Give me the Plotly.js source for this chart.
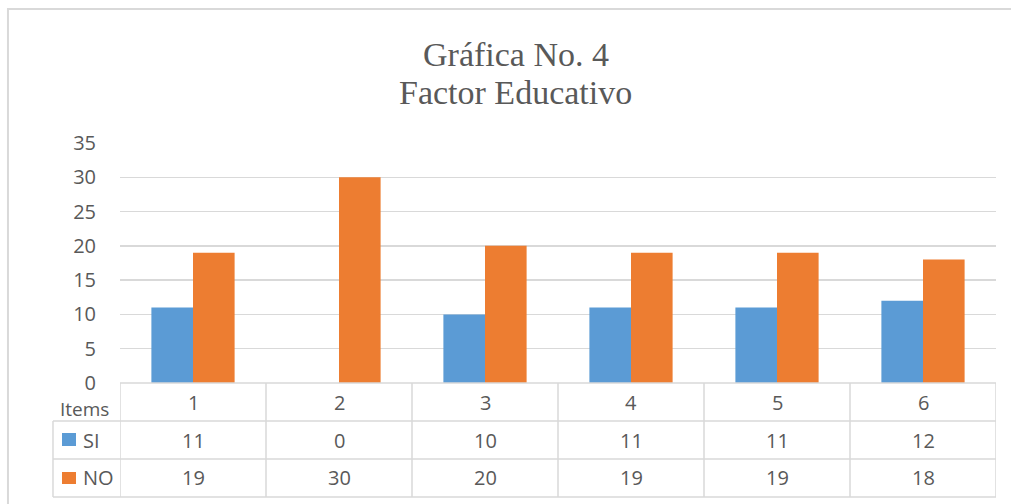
<!DOCTYPE html>
<html>
<head>
<meta charset="utf-8">
<script src="https://cdn.plot.ly/plotly-3.0.1.min.js"></script>
<style>html,body{margin:0;padding:0;background:#fff;}#chart{width:1011px;height:504px;}</style>
</head>
<body>
<div id="chart"></div>
<script>
const categories = ['1', '2', '3', '4', '5', '6'];
const siValues = [11, 0, 10, 11, 11, 12];
const noValues = [19, 30, 20, 19, 19, 18];
const seriesNames = ['SI', 'NO'];
const titleLines = ['Gráfica No. 4', 'Factor Educativo'];
const rowHeader = 'Items';

const BLUE = '#5b9bd5', ORANGE = '#ed7d31', GRID = '#d9d9d9', TXT = '#595959';
const FONT = 'Open Sans, sans-serif';

const traces = [
  {type: 'bar', name: seriesNames[0], x: categories, y: siValues, marker: {color: BLUE}},
  {type: 'bar', name: seriesNames[1], x: categories, y: noValues, marker: {color: ORANGE}}
];

// table geometry (paper y relative to plot area)
const rowY = [0, -0.1583, -0.3167, -0.475];
const rowMid = [-0.0792, -0.2375, -0.3958];
const leftX = -0.0765;
const n = categories.length;

const shapes = [];
const line = {color: GRID, width: 1.5};
// outer chart border
shapes.push({type: 'rect', xref: 'paper', yref: 'paper', x0: -0.1279, x1: 2, y0: -1, y1: 1.5583, line: {color: GRID, width: 2}});
// horizontal table lines
rowY.forEach((y, i) => {
  shapes.push({type: 'line', xref: 'x', yref: 'paper', x0: -0.5, x1: n - 0.5, y0: y, y1: y, line: line});
  if (i > 0) shapes.push({type: 'line', xref: 'paper', yref: 'paper', x0: leftX, x1: 0, y0: y, y1: y, line: line});
});
// vertical table lines
for (let k = 0; k <= n; k++) {
  shapes.push({type: 'line', xref: 'x', yref: 'paper', x0: k - 0.5, x1: k - 0.5, y0: rowY[0], y1: rowY[3], line: line});
}
shapes.push({type: 'line', xref: 'paper', yref: 'paper', x0: leftX, x1: leftX, y0: rowY[1], y1: rowY[3], line: line});
// legend keys
shapes.push({type: 'rect', xref: 'paper', yref: 'paper', x0: -0.0662, x1: -0.0502, y0: -0.2625, y1: -0.2083, fillcolor: BLUE, line: {width: 0}});
shapes.push({type: 'rect', xref: 'paper', yref: 'paper', x0: -0.0662, x1: -0.0502, y0: -0.4208, y1: -0.3708, fillcolor: ORANGE, line: {width: 0}});

const annotations = [];
const tf = {family: FONT, size: 20, color: TXT};
categories.forEach((c, i) => {
  annotations.push({xref: 'x', yref: 'paper', x: i, y: rowMid[0], text: c, showarrow: false, font: tf, xanchor: 'center', yanchor: 'middle'});
  annotations.push({xref: 'x', yref: 'paper', x: i, y: rowMid[1], text: String(siValues[i]), showarrow: false, font: tf, xanchor: 'center', yanchor: 'middle'});
  annotations.push({xref: 'x', yref: 'paper', x: i, y: rowMid[2], text: String(noValues[i]), showarrow: false, font: tf, xanchor: 'center', yanchor: 'middle'});
});
annotations.push({xref: 'paper', yref: 'paper', x: -0.0103, y: -0.1083, text: rowHeader, showarrow: false, font: {family: FONT, size: 19, color: TXT}, xanchor: 'right', yanchor: 'middle'});
annotations.push({xref: 'paper', yref: 'paper', x: -0.0449, y: rowMid[1], text: seriesNames[0], showarrow: false, font: tf, xanchor: 'left', yanchor: 'middle'});
annotations.push({xref: 'paper', yref: 'paper', x: -0.0449, y: rowMid[2], text: seriesNames[1], showarrow: false, font: tf, xanchor: 'left', yanchor: 'middle'});
// title lines
const titleFont = {family: 'Liberation Serif, Times New Roman, serif', size: 34, color: TXT};
annotations.push({xref: 'paper', yref: 'paper', x: 0.452, y: 1.3667, text: titleLines[0], showarrow: false, font: titleFont, xanchor: 'center', yanchor: 'middle'});
annotations.push({xref: 'paper', yref: 'paper', x: 0.452, y: 1.2125, text: titleLines[1], showarrow: false, font: titleFont, xanchor: 'center', yanchor: 'middle'});

const layout = {
  width: 1011, height: 504,
  margin: {l: 120, r: 15, t: 143, b: 121, pad: 0},
  paper_bgcolor: '#fff', plot_bgcolor: '#fff',
  showlegend: false,
  barmode: 'group', bargap: 0.43, bargroupgap: 0,
  xaxis: {type: 'category', showticklabels: false, showgrid: false, zeroline: false, showline: false, ticks: '', range: [-0.5, n - 0.5]},
  yaxis: {range: [0, 35], dtick: 5, tick0: 0, showgrid: true, gridcolor: GRID, gridwidth: 1.5, zeroline: false, showline: false, ticks: '',
          ticklabelstandoff: 23, tickfont: {family: FONT, size: 20, color: TXT}},
  shapes: shapes,
  annotations: annotations
};

Plotly.newPlot('chart', traces, layout, {staticPlot: true, displayModeBar: false});
</script>
</body>
</html>
